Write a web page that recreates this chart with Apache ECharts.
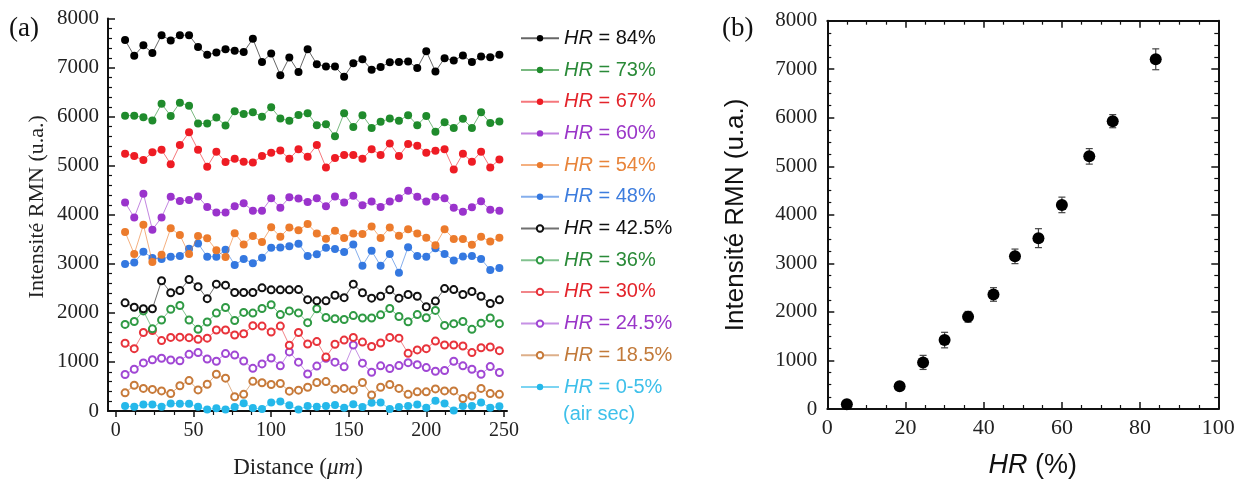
<!DOCTYPE html>
<html><head><meta charset="utf-8">
<script src="https://cdn.jsdelivr.net/npm/echarts@6/dist/echarts.min.js"></script>
<style>html,body{margin:0;padding:0;background:#fff}#c{width:1246px;height:484px}</style>
</head><body><div id="c"></div>
<script>
// ---------- Panel (a) data ----------
const distance = [6.0, 11.9, 17.8, 23.6, 29.5, 35.4, 41.3, 47.2, 53.0, 58.9, 64.8, 70.7, 76.6, 82.4, 88.3, 94.2, 100.1, 106.0, 111.8, 117.7, 123.6, 129.5, 135.4, 141.2, 147.1, 153.0, 158.9, 164.8, 170.6, 176.5, 182.4, 188.3, 194.2, 200.0, 205.9, 211.8, 217.7, 223.6, 229.4, 235.3, 241.2, 247.1];
const seriesNames = ['HR = 84%', 'HR = 73%', 'HR = 67%', 'HR = 60%', 'HR = 54%', 'HR = 48%', 'HR = 42.5%', 'HR = 36%', 'HR = 30%', 'HR = 24.5%', 'HR = 18.5%', 'HR = 0-5%'];
const hr84 = [7560, 7240, 7455, 7295, 7660, 7550, 7660, 7660, 7420, 7260, 7305, 7375, 7345, 7315, 7585, 7115, 7285, 6845, 7205, 6910, 7375, 7070, 7020, 7020, 6815, 7090, 7170, 6955, 7010, 7110, 7115, 7125, 6990, 7335, 6920, 7190, 7145, 7245, 7115, 7225, 7210, 7260];
const hr73 = [6020, 6020, 5985, 5920, 6260, 6015, 6285, 6220, 5860, 5860, 5980, 5820, 6110, 6055, 6090, 6000, 6190, 5960, 5915, 6035, 6070, 5825, 5845, 5600, 6070, 5790, 6030, 5770, 5895, 5960, 5915, 6030, 5825, 6015, 5690, 5885, 5770, 5955, 5770, 6090, 5870, 5900];
const hr67 = [5245, 5195, 5115, 5275, 5325, 5030, 5420, 5680, 5325, 4980, 5285, 5075, 5140, 5080, 5065, 5195, 5265, 5310, 5140, 5335, 5180, 5420, 4965, 5155, 5220, 5220, 5140, 5335, 5220, 5450, 5195, 5440, 5405, 5265, 5305, 5335, 4920, 5245, 5080, 5285, 4965, 5125];
const hr60 = [4250, 3945, 4430, 3695, 3945, 4365, 4280, 4300, 4370, 4160, 4045, 4045, 4175, 4235, 4080, 4080, 4335, 4145, 4355, 4330, 4260, 4335, 4175, 4370, 4250, 4385, 4195, 4270, 4160, 4270, 4335, 4490, 4365, 4270, 4365, 4335, 4145, 4060, 4155, 4275, 4100, 4080];
const hr54 = [3650, 3200, 3795, 3035, 3185, 3725, 3585, 3200, 3565, 3520, 3275, 3140, 3625, 3395, 3565, 3445, 3745, 3550, 3740, 3685, 3810, 3620, 3510, 3675, 3525, 3620, 3610, 3760, 3525, 3740, 3570, 3705, 3620, 3530, 3380, 3705, 3505, 3505, 3390, 3550, 3455, 3530];
const hr48 = [2995, 3025, 3245, 3120, 3100, 3145, 3160, 3305, 3415, 3145, 3145, 3285, 2975, 3100, 3010, 3125, 3325, 3335, 3360, 3410, 3160, 3195, 3325, 3300, 3240, 3395, 2960, 3265, 2960, 3200, 2820, 3340, 3160, 3145, 3315, 3200, 3070, 3150, 3160, 3100, 2875, 2915];
const hr42 = [2205, 2115, 2085, 2085, 2655, 2410, 2455, 2680, 2535, 2290, 2585, 2565, 2415, 2415, 2415, 2510, 2470, 2470, 2470, 2475, 2270, 2245, 2245, 2360, 2310, 2585, 2410, 2300, 2340, 2470, 2300, 2375, 2340, 2125, 2240, 2495, 2475, 2375, 2435, 2340, 2190, 2265];
const hr36 = [1765, 1825, 2040, 1675, 1855, 2075, 2150, 1855, 1665, 1815, 1995, 2110, 1845, 2010, 1995, 2090, 2165, 1965, 2040, 2000, 1800, 2085, 1905, 1880, 1865, 1945, 1895, 1895, 1960, 2090, 1925, 1820, 1965, 1900, 2050, 1745, 1780, 1825, 1665, 1790, 1895, 1780];
const hr30 = [1380, 1270, 1600, 1640, 1435, 1500, 1505, 1495, 1460, 1485, 1650, 1650, 1550, 1575, 1740, 1730, 1610, 1730, 1340, 1600, 1365, 1415, 1100, 1360, 1445, 1500, 1405, 1315, 1385, 1500, 1485, 1175, 1245, 1270, 1425, 1345, 1345, 1325, 1190, 1290, 1305, 1230];
const hr24 = [745, 850, 980, 1045, 1075, 1040, 1025, 1155, 1190, 1060, 1015, 1170, 1140, 1020, 870, 960, 1080, 920, 1205, 995, 755, 915, 1075, 995, 900, 1345, 975, 790, 920, 865, 925, 985, 945, 885, 810, 825, 1015, 920, 850, 750, 905, 785];
const hr18 = [370, 525, 460, 440, 410, 355, 515, 620, 430, 545, 750, 670, 290, 340, 605, 575, 540, 560, 405, 425, 485, 580, 600, 445, 460, 430, 580, 325, 485, 540, 460, 340, 390, 390, 450, 410, 410, 255, 305, 460, 355, 340];
const hr0 = [100, 85, 135, 135, 85, 155, 150, 150, 85, 30, 55, 30, 80, 160, 60, 40, 175, 195, 115, 30, 100, 85, 100, 120, 65, 140, 80, 170, 175, 40, 80, 100, 135, 65, 210, 155, 10, 100, 100, 175, 65, 95];
const profiles = [hr84, hr73, hr67, hr60, hr54, hr48, hr42, hr36, hr30, hr24, hr18, hr0];
const distanceTicks = [0, 50, 100, 150, 200, 250];

// ---------- Panel (b) data ----------
const hrLevels = [5, 18.5, 24.5, 30, 36, 42.5, 48, 54, 60, 67, 73, 84];
const intensity = [100, 470, 960, 1420, 1900, 2360, 3145, 3520, 4205, 5205, 5930, 7205];
const intensityErr = [40, 60, 145, 160, 110, 140, 150, 195, 160, 160, 135, 215];

// ---------- styles ----------
const colors = ['#000000', '#1f8b2c', '#ee1c24', '#9a33cc', '#ec7b2c', '#3478e0', '#111111', '#2f9a44', '#e8333b', '#a047d4', '#c77a3a', '#25b8ea'];
const textColors = ['#111111', '#2a8a38', '#e3242b', '#9a36c8', '#e8843a', '#3d7dde', '#111111', '#2a8a38', '#e3242b', '#9a36c8', '#c27a3a', '#3ec0ea'];
const hollow = [false, false, false, false, false, false, true, true, true, true, true, false];

const serif = 'Liberation Serif';
const sans = 'Liberation Sans';
const plain = v => String(v);

const minorDistTicks = [];
for (let v = 0; v < 250; v += 12.5) { if (v % 50 !== 0) minorDistTicks.push(v); }

const chart = echarts.init(document.getElementById('c'), null, {renderer: 'canvas'});

const lineSeries = seriesNames.map((name, k) => ({
  name: name,
  type: 'line',
  xAxisIndex: 0, yAxisIndex: 0,
  data: distance.map((d, i) => [d, profiles[k][i]]),
  symbol: hollow[k] ? 'emptyCircle' : 'circle',
  symbolSize: hollow[k] ? 7 : 8,
  itemStyle: {color: colors[k], borderColor: colors[k], borderWidth: hollow[k] ? 1.5 : 0, opacity: 1},
  lineStyle: {color: colors[k], width: 1, opacity: 0.6},
  emphasis: {disabled: true},
  z: 20 - k
}));

const tickStyle = {color: '#111', width: 1.5};
const minorStyle = {color: '#111', width: 1.2};

const option = {
  animation: false,
  backgroundColor: '#ffffff',
  grid: [
    {left: 108, top: 18.5, width: 399, height: 394.1},
    {left: 827.3, top: 20.7, width: 391, height: 389.3}
  ],
  xAxis: [
    { // (a) main
      type: 'value', gridIndex: 0, min: -5, max: 252,
      name: 'Distance ({i|μm})', nameLocation: 'middle', nameGap: 45,
      nameTextStyle: {fontFamily: serif, fontSize: 23, color: '#222', padding: [0, 19, 0, 0],
        rich: {i: {fontFamily: serif, fontSize: 23, fontStyle: 'italic', color: '#222'}}},
      axisLine: {show: true, onZero: false, lineStyle: {color: '#111', width: 2}},
      axisTick: {show: true, inside: false, length: 6, customValues: distanceTicks, lineStyle: tickStyle},
      axisLabel: {show: true, customValues: distanceTicks, fontFamily: serif, fontSize: 20, color: '#222', margin: 10},
      splitLine: {show: false}
    },
    { // (a) minor ticks
      type: 'value', gridIndex: 0, min: -5, max: 252, position: 'bottom',
      axisLine: {show: false},
      axisTick: {show: true, inside: false, length: 4, customValues: minorDistTicks, lineStyle: minorStyle},
      axisLabel: {show: false},
      splitLine: {show: false}
    },
    { // (b) bottom
      type: 'value', gridIndex: 1, min: 0, max: 100, interval: 20, position: 'bottom',
      name: '{i|HR} (%)', nameLocation: 'middle', nameGap: 43,
      nameTextStyle: {fontFamily: sans, fontSize: 27, color: '#111', padding: [0, 0, 0, 20],
        rich: {i: {fontFamily: sans, fontSize: 27, fontStyle: 'italic', color: '#111'}}},
      axisLine: {show: true, onZero: false, lineStyle: {color: '#111', width: 2}},
      axisTick: {show: true, inside: true, length: 7, lineStyle: tickStyle},
      minorTick: {show: true, splitNumber: 4, length: 4, lineStyle: minorStyle},
      axisLabel: {fontFamily: serif, fontSize: 22, color: '#222', margin: 8, formatter: plain},
      splitLine: {show: false}
    },
    { // (b) top mirror
      type: 'value', gridIndex: 1, min: 0, max: 100, interval: 20, position: 'top',
      axisLine: {show: true, onZero: false, lineStyle: {color: '#111', width: 2}},
      axisTick: {show: true, inside: true, length: 7, lineStyle: tickStyle},
      minorTick: {show: true, splitNumber: 4, length: 4, lineStyle: minorStyle},
      axisLabel: {show: false},
      splitLine: {show: false}
    }
  ],
  yAxis: [
    { // (a)
      type: 'value', gridIndex: 0, min: 0, max: 8000, interval: 1000,
      name: 'Intensité RMN (u.a.)', nameLocation: 'middle', nameGap: 60,
      nameTextStyle: {fontFamily: serif, fontSize: 22, color: '#222', padding: [0, 0, 0, 16]},
      axisLine: {show: true, onZero: false, lineStyle: {color: '#111', width: 2}},
      axisTick: {show: true, inside: true, length: 7, lineStyle: tickStyle},
      minorTick: {show: true, splitNumber: 5, length: 4, lineStyle: minorStyle},
      axisLabel: {fontFamily: serif, fontSize: 21, color: '#222', margin: 9, formatter: plain},
      splitLine: {show: false}
    },
    { // (b) left
      type: 'value', gridIndex: 1, min: 0, max: 8000, interval: 1000, position: 'left',
      name: 'Intensité RMN (u.a.)', nameLocation: 'middle', nameGap: 78,
      nameTextStyle: {fontFamily: sans, fontSize: 26, color: '#111'},
      axisLine: {show: true, onZero: false, lineStyle: {color: '#111', width: 2}},
      axisTick: {show: true, inside: true, length: 7, lineStyle: tickStyle},
      minorTick: {show: true, splitNumber: 4, length: 4, lineStyle: minorStyle},
      axisLabel: {fontFamily: serif, fontSize: 21, color: '#222', margin: 10, formatter: plain},
      splitLine: {show: false}
    },
    { // (b) right mirror
      type: 'value', gridIndex: 1, min: 0, max: 8000, interval: 1000, position: 'right',
      axisLine: {show: true, onZero: false, lineStyle: {color: '#111', width: 2}},
      axisTick: {show: true, inside: true, length: 7, lineStyle: tickStyle},
      minorTick: {show: true, splitNumber: 4, length: 4, lineStyle: minorStyle},
      axisLabel: {show: false},
      splitLine: {show: false}
    }
  ],
  legend: {
    orient: 'vertical', left: 520, top: 27.3, padding: 0,
    itemWidth: 38, itemHeight: 8, itemGap: 9.7,
    selectedMode: false,
    data: seriesNames.map((n, k) => ({name: n, textStyle: {color: textColors[k]}})),
    formatter: name => '{i|HR}' + name.substring(2),
    textStyle: {fontFamily: sans, fontSize: 20, lineHeight: 22,
      rich: {i: {fontFamily: sans, fontSize: 20, fontStyle: 'italic', lineHeight: 22}}}
  },
  graphic: [
    {type: 'text', left: 9, top: 15, style: {text: '(a)', font: '27px "Liberation Serif"', fill: '#111'}},
    {type: 'text', left: 722, top: 15, style: {text: '(b)', font: '27px "Liberation Serif"', fill: '#111'}},
    {type: 'text', left: 563, top: 404, style: {text: '(air sec)', font: '20px "Liberation Sans"', fill: '#3ec0ea'}}
  ],
  series: lineSeries.concat([
    {
      type: 'custom', name: 'err', xAxisIndex: 2, yAxisIndex: 1,
      data: hrLevels.map((h, i) => [h, intensity[i] - intensityErr[i], intensity[i] + intensityErr[i]]),
      encode: {x: 0, y: [1, 2]},
      renderItem: (params, api) => {
        const x = api.value(0);
        const p1 = api.coord([x, api.value(1)]);
        const p2 = api.coord([x, api.value(2)]);
        const w = 3.5;
        const st = {stroke: '#444', lineWidth: 1.2};
        return {type: 'group', children: [
          {type: 'line', shape: {x1: p1[0], y1: p1[1], x2: p2[0], y2: p2[1]}, style: st},
          {type: 'line', shape: {x1: p1[0] - w, y1: p1[1], x2: p1[0] + w, y2: p1[1]}, style: st},
          {type: 'line', shape: {x1: p2[0] - w, y1: p2[1], x2: p2[0] + w, y2: p2[1]}, style: st}
        ]};
      },
      z: 5, silent: true
    },
    {
      type: 'scatter', name: 'mean', xAxisIndex: 2, yAxisIndex: 1,
      data: hrLevels.map((h, i) => [h, intensity[i]]),
      symbol: 'circle', symbolSize: 12,
      itemStyle: {color: '#000', opacity: 1},
      z: 10, silent: true
    }
  ])
};
chart.setOption(option);
</script>
</body></html>
